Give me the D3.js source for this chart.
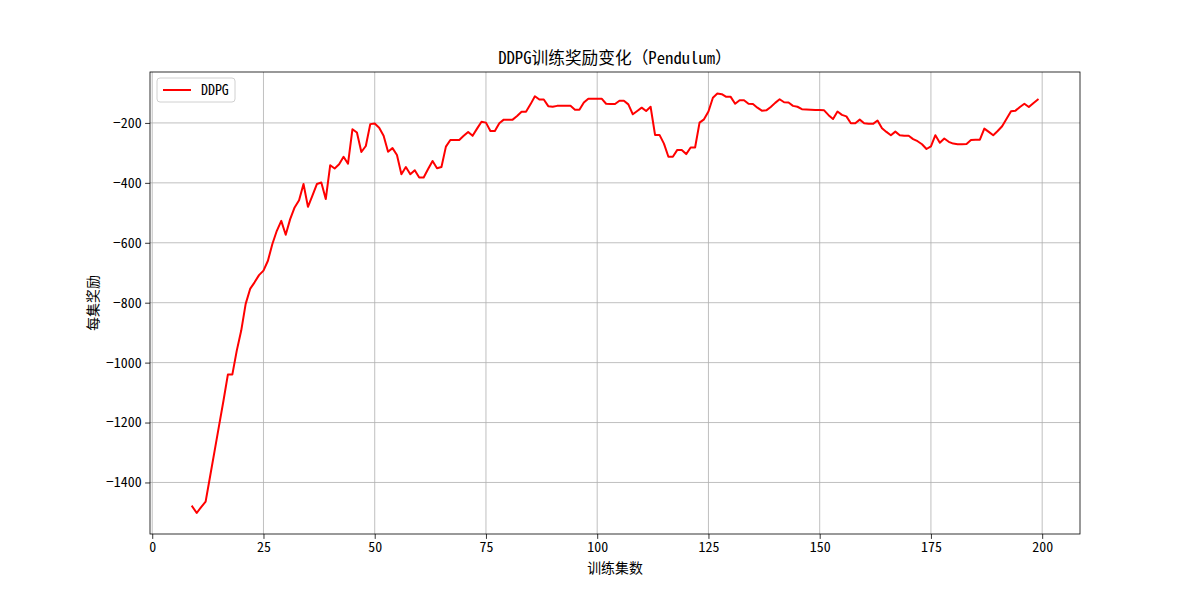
<!DOCTYPE html>
<html><head><meta charset="utf-8">
<script src="https://cdn.jsdelivr.net/npm/d3@7"></script>
<style>body{margin:0;background:#fff}svg{display:block}text{font-family:"Noto Sans Mono CJK SC","Noto Sans CJK SC","DejaVu Sans",sans-serif}</style>
</head><body><svg id="c" width="1200" height="600"></svg>
<script>
const startEpisode = 9;
const rewards = [
-1480,-1502,-1482,-1464,-1380,-1296,-1212,-1128,-1040,-1040,-960,-893,-804,-754,-732,-708,-693,-660,-604,-560,-527,-573,-521,-482,-458,-404,-480,-443,-404,-399,-454,
-341,-352,-338,-313,-336,-221,-232,-297,-277,-204,-202,-216,-243,-296,-284,-307,-371,-347,-371,-358,
-382,-382,-354,-327,-351,-347,-279,-257,-257,-257,-243,-230,-243,-219,-196,-199,-227,-227,-201,-189,
-189,-189,-177,-163,-163,-138,-111,-122,-122,-144,-146,-143,-143,-143,-143,-156,-156,-132,-119,-119,
-119,-119,-136,-137,-137,-126,-126,-138,-171,-160,-149,-160,-146,-240,-240,-269,-313,-313,-290,-290,
-304,-282,-282,-199,-188,-162,-116,-102,-104,-113,-113,-136,-124,-124,-136,-137,-149,-159,-158,-147,
-133,-121,-131,-132,-143,-146,-154,-155,-156,-157,-157,-158,-174,-187,-162,-173,-178,-201,-201,-189,
-201,-203,-203,-192,-218,-230,-241,-229,-241,-243,-243,-254,-261,-271,-287,-278,-241,-266,-252,-263,
-269,-271,-271,-270,-257,-256,-256,-219,-230,-241,-227,-211,-186,-161,-159,-147,-136,-147,-134,-122
];
const xTicks = [0,25,50,75,100,125,150,175,200];
const yTicks = [-1400,-1200,-1000,-800,-600,-400,-200];
const titleText = "DDPG训练奖励变化（Pendulum）";
const xLabel = "训练集数", yLabel = "每集奖励", seriesName = "DDPG";

const FF='"Noto Sans Mono CJK SC","Noto Sans CJK SC","DejaVu Sans",sans-serif';
const data = rewards.map((v,i)=>({x:startEpisode+i,y:v}));
const L=150,R=1080,T=72,B=534;
const svg=d3.select("#c");
const x=d3.scaleLinear().domain([-0.5,208.5]).range([L,R]);
const y=d3.scaleLinear().domain([-1572,-30]).range([B,T]);
const fmt=d=>String(d).replace("-","\u2212");

svg.append("g").selectAll("line").data(xTicks).join("line")
 .attr("x1",d=>x(d)).attr("x2",d=>x(d)).attr("y1",T).attr("y2",B)
 .attr("stroke","#b0b0b0").attr("stroke-width",0.8);
svg.append("g").selectAll("line").data(yTicks).join("line")
 .attr("y1",d=>y(d)).attr("y2",d=>y(d)).attr("x1",L).attr("x2",R)
 .attr("stroke","#b0b0b0").attr("stroke-width",0.8);

const xa=svg.append("g").attr("transform",`translate(0,${B})`)
 .call(d3.axisBottom(x).tickValues(xTicks).tickSize(4.9).tickPadding(3.5).tickFormat(fmt));
const ya=svg.append("g").attr("transform",`translate(${L},0)`)
 .call(d3.axisLeft(y).tickValues(yTicks).tickSize(4.9).tickPadding(3.5).tickFormat(fmt));
[xa,ya].forEach(a=>{a.select(".domain").remove();a.selectAll("text").attr("font-size",13.9).attr("fill","#000")
 .style("font-family",FF);a.selectAll("line").attr("stroke","#000").attr("stroke-width",0.8);});

svg.append("path").datum(data)
 .attr("d",d3.line().x(d=>x(d.x)).y(d=>y(d.y)))
 .attr("fill","none").attr("stroke","#ff0000").attr("stroke-width",2).attr("stroke-linejoin","round").attr("stroke-linecap","square");

svg.append("rect").attr("x",L).attr("y",T).attr("width",R-L).attr("height",B-T)
 .attr("fill","none").attr("stroke","#000").attr("stroke-width",0.8);

svg.append("text").attr("x",(L+R)/2).attr("y",T-8).attr("text-anchor","middle").attr("font-size",16.7).text(titleText);
svg.append("text").attr("x",(L+R)/2).attr("y",573).attr("text-anchor","middle").attr("font-size",13.9).text(xLabel);
svg.append("text").attr("transform",`translate(98,${(T+B)/2}) rotate(-90)`).attr("text-anchor","middle").attr("font-size",13.9).text(yLabel);

const lg=svg.append("g").attr("transform",`translate(157,78)`);
lg.append("rect").attr("width",78).attr("height",24).attr("rx",3).attr("fill","#fff").attr("fill-opacity",0.8).attr("stroke","#d0d0d0").attr("stroke-width",1);
lg.append("line").attr("x1",6).attr("x2",34).attr("y1",12).attr("y2",12).attr("stroke","#ff0000").attr("stroke-width",2);
lg.append("text").attr("x",44).attr("y",17).attr("font-size",13.9).text(seriesName);
</script></body></html>
